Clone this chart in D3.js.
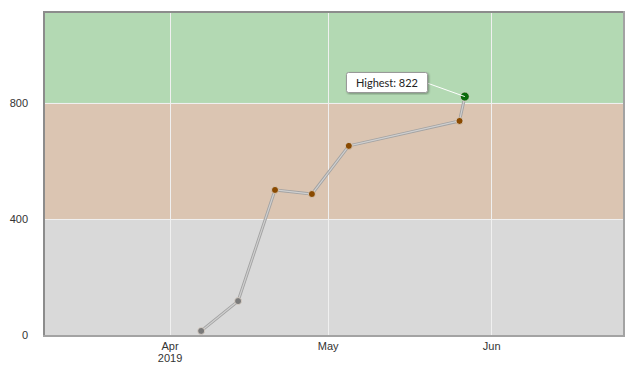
<!DOCTYPE html>
<html>
<head>
<meta charset="utf-8">
<script src="https://cdn.jsdelivr.net/npm/d3@7"></script>
<style>
  body { margin: 0; background: #fff; }
  svg { font-family: Lato, "Open Sans", sans-serif; }
  .tick text { fill: #333; font-size: 11px; }
</style>
</head>
<body>
<div id="chart"></div>
<script>
(function() {
  var dates = ['2019-04-07', '2019-04-14', '2019-04-21', '2019-04-28', '2019-05-05', '2019-05-26', '2019-05-27'];
  var values = [14, 117, 500, 486, 652, 738, 822];
  var bands = [[0, 400], [400, 800], [800, 1117]];
  var bandColors = ['#d9d9d9', '#dbc5b2', '#b3d9b3'];
  var pointColors = ['#7a7a7a', '#8a4a00', '#0b6b0b'];
  var yTicks = [0, 400, 800];
  var xTicks = ['2019-04-01', '2019-05-01', '2019-06-01'];

  var width = 635, height = 371;
  var margin = {top: 11, right: 12, bottom: 36, left: 43};
  var parse = d3.timeParse('%Y-%m-%d');
  var data = dates.map(function(d, i) { return {date: parse(d), value: values[i]}; });

  var x = d3.scaleTime().domain([parse('2019-03-08'), parse('2019-06-26')]).range([margin.left, width - margin.right]);
  var y = d3.scaleLinear().domain([0, 1117]).range([height - margin.bottom, margin.top]);

  var svg = d3.select('#chart').append('svg').attr('width', width).attr('height', height);

  svg.append('defs').append('filter').attr('id', 'shadow')
    .append('feDropShadow').attr('dx', 1).attr('dy', 1).attr('stdDeviation', 1).attr('flood-color', '#000').attr('flood-opacity', 0.35);

  svg.append('g').selectAll('rect').data(bands).enter().append('rect')
    .attr('x', margin.left).attr('width', x.range()[1] - x.range()[0])
    .attr('y', function(d) { return y(d[1]); })
    .attr('height', function(d) { return y(d[0]) - y(d[1]); })
    .attr('fill', function(d, i) { return bandColors[i]; });

  // grid
  svg.append('g').selectAll('line').data(xTicks.map(parse)).enter().append('line')
    .attr('x1', function(d) { return Math.round(x(d)) + 0.5; }).attr('x2', function(d) { return Math.round(x(d)) + 0.5; })
    .attr('y1', y.range()[1]).attr('y2', y.range()[0])
    .attr('stroke', '#f0f0f0').attr('stroke-width', 1);
  svg.append('g').selectAll('line').data([400, 800]).enter().append('line')
    .attr('x1', margin.left).attr('x2', width - margin.right)
    .attr('y1', function(d) { return Math.round(y(d)) + 0.5; }).attr('y2', function(d) { return Math.round(y(d)) + 0.5; })
    .attr('stroke', '#f0f0f0').attr('stroke-width', 1);

  // frame
  svg.append('path')
    .attr('d', 'M' + (margin.left + 1) + ',' + y.range()[0] + 'V' + (margin.top + 1) + 'H' + (width - margin.right))
    .attr('fill', 'none').attr('stroke', '#8c8c8c').attr('stroke-width', 2);
  svg.append('path')
    .attr('d', 'M' + margin.left + ',' + (y.range()[0] + 1) + 'H' + (width - margin.right + 1) + 'V' + margin.top)
    .attr('fill', 'none').attr('stroke', '#a3a3a3').attr('stroke-width', 2);

  // axes
  var yAxis = svg.append('g').attr('transform', 'translate(' + (margin.left - 12) + ',0)')
    .call(d3.axisLeft(y).tickValues(yTicks).tickSize(0).tickFormat(d3.format('d')));
  yAxis.select('.domain').remove();

  var fmt = d3.timeFormat('%b');
  var xAxis = svg.append('g').attr('transform', 'translate(0,' + (y.range()[0] + 4) + ')')
    .call(d3.axisBottom(x).tickValues(xTicks.map(parse)).tickSize(0).tickFormat(fmt));
  xAxis.select('.domain').remove();
  xAxis.selectAll('.tick text').each(function(d) {
    if (d.getMonth() === 3) {
      d3.select(this).append('tspan').attr('x', 0).attr('dy', '1.1em').text(d.getFullYear());
    }
  });

  // line
  var line = d3.line().x(function(d) { return x(d.date); }).y(function(d) { return y(d.value); });
  svg.append('path').datum(data).attr('d', line).attr('fill', 'none')
    .attr('stroke', '#a2a2a2').attr('stroke-width', 3).attr('stroke-linejoin', 'round');
  svg.append('path').datum(data).attr('d', line).attr('fill', 'none')
    .attr('stroke', '#cfcfcf').attr('stroke-width', 1.2).attr('stroke-linejoin', 'round');

  var colorFor = function(v) { return v >= 800 ? pointColors[2] : v >= 400 ? pointColors[1] : pointColors[0]; };

  svg.append('g').selectAll('circle').data(data).enter().append('circle')
    .attr('cx', function(d) { return x(d.date); }).attr('cy', function(d) { return y(d.value); })
    .attr('r', function(d) { return d.value >= 800 ? 4.5 : 3.5; })
    .attr('fill', function(d) { return colorFor(d.value); })
    .attr('stroke', '#e0d6cc').attr('stroke-width', 0.8);

  // highest label
  var best = data.reduce(function(a, b) { return b.value > a.value ? b : a; });
  var bx = x(best.date), by = y(best.value);
  var lx = 346, ly = 72, lw = 81, lh = 20;
  svg.append('line').attr('x1', lx + lw).attr('y1', ly + lh / 2 + 1).attr('x2', bx).attr('y2', by)
    .attr('stroke', '#fff').attr('stroke-width', 1);
  svg.append('rect').attr('x', lx + 0.5).attr('y', ly + 0.5).attr('width', lw).attr('height', lh)
    .attr('rx', 2).attr('fill', '#fff').attr('stroke', '#999').attr('filter', 'url(#shadow)');
  svg.append('text').attr('x', lx + lw / 2 + 0.5).attr('y', ly + 14.5).attr('text-anchor', 'middle')
    .attr('font-size', 11).attr('fill', '#222').text('Highest: ' + best.value);
})();
</script>
</body>
</html>
